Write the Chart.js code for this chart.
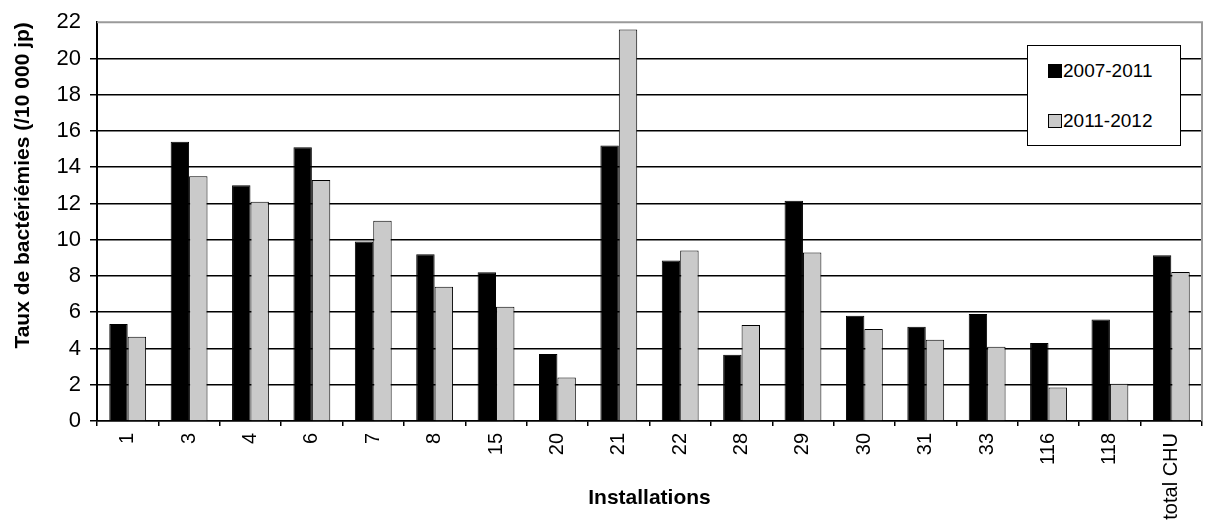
<!DOCTYPE html>
<html>
<head>
<meta charset="utf-8">
<title>Taux de bactériémies</title>
<script src="https://cdn.jsdelivr.net/npm/chart.js@4/dist/chart.umd.min.js"></script>
<style>
  body { margin: 0; background: #fff; }
  #wrap { position: relative; width: 1209px; height: 527px; }
  #legendBox {
    position: absolute; left: 1027px; top: 45px; width: 152px; height: 99px;
    border: 1.5px solid #000; background: #fff;
    font-family: "Liberation Sans", Arial, sans-serif; font-size: 19px; color: #000;
  }
  .item { position: absolute; left: 20px; display: flex; align-items: center; }
  .swatch { width: 12px; height: 12px; border: 1px solid #000; margin-right: 1px; }
</style>
</head>
<body>
<div id="wrap">
  <canvas id="chart" width="1209" height="527"></canvas>
  <div id="legendBox"></div>
</div>
<script>
const categories = ["1", "3", "4", "6", "7", "8", "15", "20", "21", "22", "28", "29", "30", "31", "33", "116", "118", "total CHU"];
const seriesLabels = ["2007-2011", "2011-2012"];
const values2007 = [5.35, 15.4, 13.0, 15.1, 9.9, 9.2, 8.2, 3.7, 15.2, 8.85, 3.65, 12.15, 5.8, 5.2, 5.9, 4.3, 5.6, 9.15];
const values2011 = [4.65, 13.5, 12.1, 13.3, 11.05, 7.4, 6.3, 2.4, 21.6, 9.4, 5.3, 9.3, 5.08, 4.48, 4.1, 1.85, 2.05, 8.22];
const yMin = 0, yMax = 22, yStep = 2;

const colors = ["#000000", "#cacaca"];
const fontFamily = '"Liberation Sans", Arial, sans-serif';

// cadre gris (haut + droite) comme dans l'original
const framePlugin = {
    id: "frame",
    afterDraw(chart) {
        const a = chart.chartArea;
        const ctx = chart.ctx;
        ctx.save();
        ctx.strokeStyle = "#9a9a9a";
        ctx.lineWidth = 2;
        ctx.beginPath();
        ctx.moveTo(a.left, a.top);
        ctx.lineTo(a.right, a.top);
        ctx.lineTo(a.right, a.bottom);
        ctx.stroke();
        ctx.restore();
    }
};

const ctx = document.getElementById("chart").getContext("2d");
const chart = new Chart(ctx, {
    type: "bar",
    data: {
        labels: categories,
        datasets: [
            { label: seriesLabels[0], data: values2007, backgroundColor: colors[0], borderColor: "#000", borderWidth: 1 },
            { label: seriesLabels[1], data: values2011, backgroundColor: colors[1], borderColor: "#000", borderWidth: 1 }
        ]
    },
    options: {
        responsive: false,
        animation: false,
        devicePixelRatio: 1,
        layout: { padding: { top: 19, right: 7, bottom: 0, left: 0 } },
        datasets: { bar: { categoryPercentage: 0.6, barPercentage: 1.0 } },
        plugins: {
            legend: { display: false },
            tooltip: { enabled: false }
        },
        scales: {
            x: {
                afterFit(scale) { scale.height = 106; },
                grid: { drawOnChartArea: false, color: "#000", tickLength: 5, lineWidth: 1.5 },
                border: { color: "#000", width: 1.5 },
                ticks: {
                    color: "#000",
                    font: { family: fontFamily, size: 20 },
                    minRotation: 90,
                    maxRotation: 90,
                    padding: 7,
                    autoSkip: false
                },
                title: {
                    display: true,
                    text: "Installations",
                    color: "#000",
                    font: { family: fontFamily, size: 21, weight: "bold" },
                    padding: { top: 0, bottom: 16 }
                }
            },
            y: {
                min: yMin,
                max: yMax,
                afterFit(scale) { scale.width = 97; },
                grid: {
                    color: c => (c.tick && c.tick.value === yMax ? "rgba(0,0,0,0)" : "#000"),
                    lineWidth: 1.5,
                    tickLength: 7
                },
                border: { color: "#000", width: 2 },
                ticks: {
                    stepSize: yStep,
                    color: "#000",
                    font: { family: fontFamily, size: 22 },
                    padding: 9
                },
                title: {
                    display: true,
                    text: "Taux de bactériémies (/10 000 jp)",
                    align: "end",
                    color: "#000",
                    font: { family: fontFamily, size: 21, weight: "bold" },
                    padding: { top: 11, bottom: 4 }
                }
            }
        }
    },
    plugins: [framePlugin]
});

// légende encadrée, comme dans l'original
const legendBox = document.getElementById("legendBox");
seriesLabels.forEach((lbl, i) => {
    const item = document.createElement("div");
    item.className = "item";
    item.style.top = (i === 0 ? 14 : 64) + "px";
    const sw = document.createElement("span");
    sw.className = "swatch";
    sw.style.background = colors[i];
    const txt = document.createElement("span");
    txt.textContent = lbl;
    item.appendChild(sw);
    item.appendChild(txt);
    legendBox.appendChild(item);
});
</script>
</body>
</html>
